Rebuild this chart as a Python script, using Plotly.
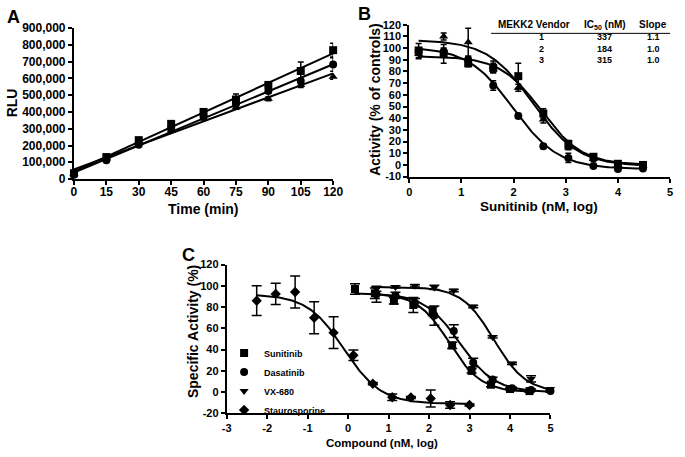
import numpy as np
import plotly.graph_objects as go

# ---------------- Panel A data ----------------
time_min = [0, 15, 30, 45, 60, 75, 90, 105, 120]
rlu_square = [35000, 131000, 232000, 329000, 400000, 474000, 561000, 644000, 768000]
rlu_square_err = [5000, 6000, 8000, 8000, 10000, 33000, 16000, 53000, 41000]
rlu_circle = [25000, 112000, 205000, 300000, 372000, 448000, 525000, 584000, 683000]
rlu_circle_err = [4000, 5000, 6000, 8000, 8000, 10000, 12000, 15000, 40000]
rlu_triangle = [30000, 126000, 213000, 290000, 362000, 426000, 478000, 561000, 610000]
rlu_triangle_err = [4000, 5000, 6000, 8000, 8000, 10000, 12000, 15000, 15000]

# ---------------- Panel B data ----------------
b_x = [0.18, 0.66, 1.13, 1.61, 2.09, 2.57, 3.05, 3.53, 4.0, 4.48]
b_square = [98, 95, 87, 83, 76, 44, 18, 7, 1, 0]
b_square_err = [6, 8, 3, 4, 11, 4, 3, 2, 2, 2]
b_circle = [97, 97, 90, 68, 42, 16, 6, -1, -3.5, -3]
b_circle_err = [3, 3, 3, 4, 2, 2, 4, 1, 1, 1]
b_triangle = [95, 110, 105, 84, 66, 39, 15, 5, 0, -1]
b_triangle_err = [4, 3, 12, 5, 3, 3, 2, 2, 1, 1]
# four-parameter logistic fit parameters: top, bottom, logIC50, hill
b_fit_square = [93, 0, 2.53, 1.1]
b_fit_circle = [101, -3.5, 1.99, 1.0]
b_fit_triangle = [107, -1, 2.37, 1.0]

table_vendor = ["1", "2", "3"]
table_ic50 = ["337", "184", "315"]
table_slope = ["1.1", "1.0", "1.0"]

# ---------------- Panel C data ----------------
c_names = ["Sunitinib", "Dasatinib", "VX-680", "Staurosporine"]
c_suni_x = [0.17, 0.66, 1.13, 1.61, 2.09, 2.57, 3.05, 3.53, 4.0, 4.48]
c_suni_y = [97, 93, 86, 82, 76, 44, 20, 7, 3, 1]
c_suni_err = [5, 5, 3, 7, 4, 3, 2, 2, 1, 1]
c_dasa_x = [0.7, 1.17, 1.65, 2.13, 2.61, 3.09, 3.57, 4.05, 4.52, 5.0]
c_dasa_y = [92, 91, 84, 72, 57.5, 28, 12, 3.7, 2, 1]
c_dasa_err = [7.5, 3, 4, 9, 6, 4, 2, 1, 1, 1]
c_vx_x = [0.7, 1.17, 1.65, 2.13, 2.61, 3.09, 3.57, 4.05, 4.52, 5.0]
c_vx_y = [97, 99, 100, 98.5, 95.5, 80.5, 52, 27, 12.5, 3]
c_vx_err = [2, 1, 1, 2, 1, 1, 1, 1, 3, 1]
c_stau_x = [-2.26, -1.79, -1.31, -0.84, -0.36, 0.13, 0.61, 1.09, 1.55, 2.04, 2.52, 3.0]
c_stau_y = [86, 92.4, 94.2, 70, 56, 34.7, 8, -4.8, -5, -6, -12, -12]
c_stau_err = [14, 10, 15, 15, 15, 5, 1, 3, 1, 8, 3, 1]
c_fit_suni = [93, 0, 2.5, 1.1]
c_fit_dasa = [93, 0, 2.75, 1.0]
c_fit_vx = [99, 0, 3.6, 1.1]
c_fit_stau = [92, -11, -0.1, 0.95]

c_xtick_vals = [-3, -2, -1, 0, 1, 2, 3, 4, 5]
c_xtick_text = ["-3", "-2", "-1", "0", "1", "2", "3", "4", "5"]
c_ytick_vals = [-20, 0, 20, 40, 60, 80, 100, 120]
c_ytick_text = ["-20", "0", "20", "40", "60", "80", "100", "120"]
b_ytick_vals = list(range(-10, 121, 10))
b_ytick_text = [str(v) for v in b_ytick_vals]

FONT = "Liberation Sans, Arial, Helvetica, sans-serif"


def logistic(x, p):
    top, bottom, c, h = p
    return bottom + (top - bottom) / (1 + 10 ** ((x - c) * h))


fig = go.Figure()
black = "black"


def pts(x, y, err, symbol, xa, ya, size=8, name=None, legend=False, cap=3, errthick=1.5):
    return go.Scatter(
        x=x, y=y, mode="markers", xaxis=xa, yaxis=ya,
        marker=dict(symbol=symbol, color=black, size=size),
        error_y=dict(type="data", array=err, visible=True, color=black,
                     thickness=errthick, width=cap),
        showlegend=legend, name=name, cliponaxis=False,
    )


def line(x, y, xa, ya):
    return go.Scatter(x=x, y=y, mode="lines", xaxis=xa, yaxis=ya,
                      line=dict(color=black, width=2), showlegend=False,
                      hoverinfo="skip", cliponaxis=False)


# Panel A
t = np.array(time_min, dtype=float)
tt = np.array([0.0, 120.0])
a_series = [(rlu_square, rlu_square_err, "square"),
            (rlu_circle, rlu_circle_err, "circle"),
            (rlu_triangle, rlu_triangle_err, "triangle-up")]
for ys, er, sym in a_series:
    k, b0 = np.polyfit(t, np.array(ys, dtype=float), 1)
    fig.add_trace(line(tt, k * tt + b0, "x", "y"))
for ys, er, sym in a_series:
    fig.add_trace(pts(time_min, ys, er, sym, "x", "y", size=8))

# Panel B
for p in [b_fit_square, b_fit_circle, b_fit_triangle]:
    xx = np.linspace(b_x[0], b_x[-1], 200)
    fig.add_trace(line(xx, logistic(xx, p), "x2", "y2"))
for ys, er, sym in [(b_square, b_square_err, "square"),
                    (b_circle, b_circle_err, "circle"),
                    (b_triangle, b_triangle_err, "triangle-up")]:
    fig.add_trace(pts(b_x, ys, er, sym, "x2", "y2", size=8))

# Panel C
for xs, p in [(c_suni_x, c_fit_suni), (c_dasa_x, c_fit_dasa),
              (c_vx_x, c_fit_vx), (c_stau_x, c_fit_stau)]:
    xx = np.linspace(xs[0], xs[-1], 200)
    fig.add_trace(line(xx, logistic(xx, p), "x3", "y3"))
series_c = [(c_suni_x, c_suni_y, c_suni_err, "square", 8),
            (c_dasa_x, c_dasa_y, c_dasa_err, "circle", 8),
            (c_vx_x, c_vx_y, c_vx_err, "triangle-down", 8),
            (c_stau_x, c_stau_y, c_stau_err, "diamond", 8)]
for (xs, ys, er, sym, sz), nm in zip(series_c, c_names):
    fig.add_trace(pts(xs, ys, er, sym, "x3", "y3", size=sz, name=nm, legend=True, cap=5))

W, H = 685, 457


def px(x):
    return x / W


def py(y):
    return 1 - y / H


def axis(size=11, **kw):
    d = dict(showline=True, linecolor=black, linewidth=2, ticks="outside",
             ticklen=4, tickwidth=2, tickcolor=black, showgrid=False,
             zeroline=False, mirror=False,
             tickfont=dict(family=FONT, size=size, color=black, weight="bold"))
    d.update(kw)
    return d


fig.update_layout(
    width=W, height=H, margin=dict(l=0, r=0, t=0, b=0),
    paper_bgcolor="white", plot_bgcolor="white",
    font=dict(family=FONT, color=black),
    xaxis=axis(12, domain=[px(70.5), px(335.5)], range=[0, 120], tickvals=time_min,
               anchor="y", ticklabelstandoff=-3),
    yaxis=axis(12, domain=[py(177.5), py(21.7)], range=[0, 900000], dtick=100000,
               tickformat=",", anchor="x"),
    xaxis2=axis(11, domain=[px(413.3), px(680)], range=[0, 5], dtick=1, anchor="y2"),
    yaxis2=axis(11, domain=[py(175), py(18.3)], range=[-10, 120],
                tickvals=b_ytick_vals, ticktext=b_ytick_text, anchor="x2"),
    xaxis3=axis(11, domain=[px(226.7), px(557.7)], range=[-3, 5],
                tickvals=c_xtick_vals, ticktext=c_xtick_text, anchor="y3",
                ticklabelstandoff=-1),
    yaxis3=axis(11, domain=[py(419.3), py(265.7)], range=[-20, 120],
                tickvals=c_ytick_vals, ticktext=c_ytick_text, anchor="x3"),
    legend=dict(x=px(224), y=py(342), xanchor="left", yanchor="top",
                bgcolor="rgba(0,0,0,0)",
                font=dict(family=FONT, size=9, color=black, weight="bold"),
                itemwidth=30, tracegroupgap=0),
    showlegend=True,
)

ann = []


def text(x, y, s, size, angle=0, xanchor="center"):
    ann.append(dict(x=px(x), y=py(y), xref="paper", yref="paper", text=s,
                    showarrow=False, textangle=angle, xanchor=xanchor, yanchor="middle",
                    borderpad=0,
                    font=dict(family=FONT, size=size, color=black, weight="bold")))


# panel letters
text(9, 10, "A", 18)
text(367.5, 7, "B", 18)
text(187.5, 256, "C", 18)
# axis titles
text(202.5, 208, "Time (min)", 14)
text(7.5, 99, "RLU", 14, angle=-90)
text(545.8, 206, "Sunitinib (nM, log)", 13.5)
text(378, 96, "Activity (% of controls)", 14, angle=-90)
text(385.7, 450, "Compound (nM, log)", 11.5)
text(191.5, 335, "Specific Activity (%)", 14, angle=-90)
# table
text(541.3, 18.5, "MEKK2 Vendor", 10)
text(613.7, 18.5, "IC<sub>50</sub> (nM)", 10)
text(663, 18.5, "Slope", 10)
text(548, 43, "<br>".join(table_vendor), 9)
text(613.3, 43, "<br>".join(table_ic50), 9)
text(663.3, 43, "<br>".join(table_slope), 9)

fig.update_layout(annotations=ann)
fig.add_shape(type="line", xref="paper", yref="paper", x0=px(497), x1=px(680),
              y0=py(27.2), y1=py(27.2), line=dict(color=black, width=1))

fig.write_html("out.html", config={"displayModeBar": False},
               post_script="document.body.style.margin='0';")
